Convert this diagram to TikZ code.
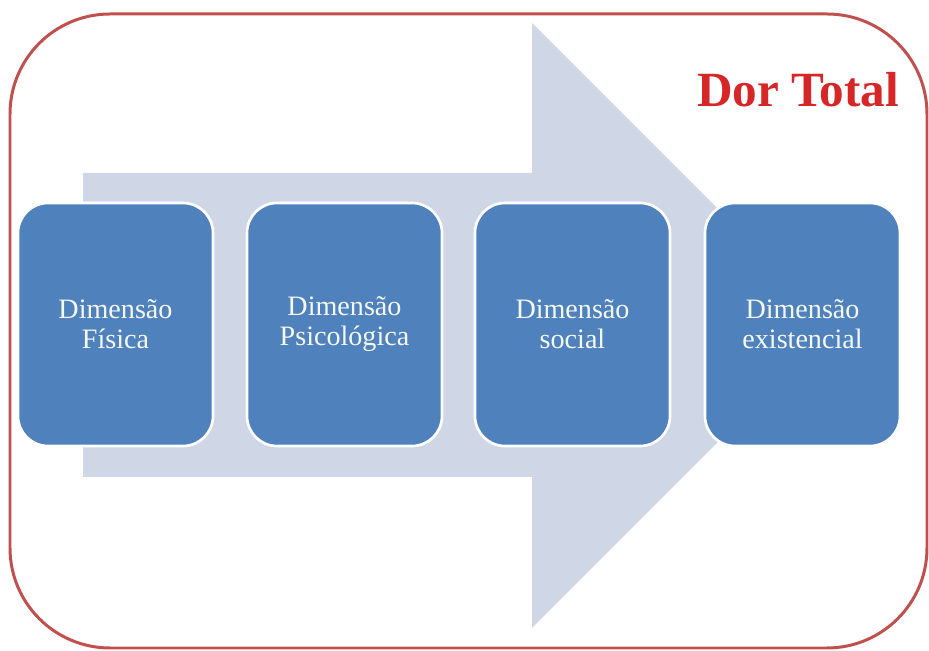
\documentclass[tikz,border=0pt]{standalone}
\usepackage{fontspec}
\setmainfont{Liberation Serif}
\usepackage{tikz}
\usetikzlibrary{arrows,shapes,positioning}
\usepackage{xcolor}
\definecolor{dtblue}{RGB}{79,129,189}
\definecolor{dtarrow}{RGB}{207,214,229}
\definecolor{dtframe}{RGB}{192,80,77}
\definecolor{dttitle}{RGB}{214,38,40}
\definecolor{dttext}{RGB}{245,248,240}
\tikzstyle{dimbox} = [rectangle, rounded corners=0.6cm, minimum width=3.9cm, minimum height=4.86cm, text centered, align=center, draw=white, line width=1.5pt, fill=dtblue, text=dttext, font=\fontsize{16}{17}\selectfont]

\begin{document}
\begin{tikzpicture}
\useasboundingbox (0,0) rectangle (18.58,13.02);
% Frame
\draw[dtframe, line width=1.7pt, rounded corners=2cm] (0.2,0.06) rectangle (18.54,12.74);

% Big arrow
\fill[dtarrow] (1.66,9.56) -- (10.64,9.56) -- (10.64,12.56) -- (16.69,6.51) -- (10.64,0.46) -- (10.64,3.48) -- (1.66,3.48) -- cycle;

% Title
\node[font=\fontsize{28}{30}\selectfont\bfseries, text=dttitle] (title) at (15.96,11.22) {Dor Total};

% Dimensions
\node[dimbox] (fisica) at (2.31,6.53) {Dimensão\\Física};
\node[dimbox] (psico) at (6.89,6.53) {Dimensão\\Psicológica};
\node[dimbox] (social) at (11.45,6.53) {Dimensão\\social};
\node[dimbox] (exist) at (16.05,6.53) {Dimensão\\existencial};
\end{tikzpicture}
\end{document}
